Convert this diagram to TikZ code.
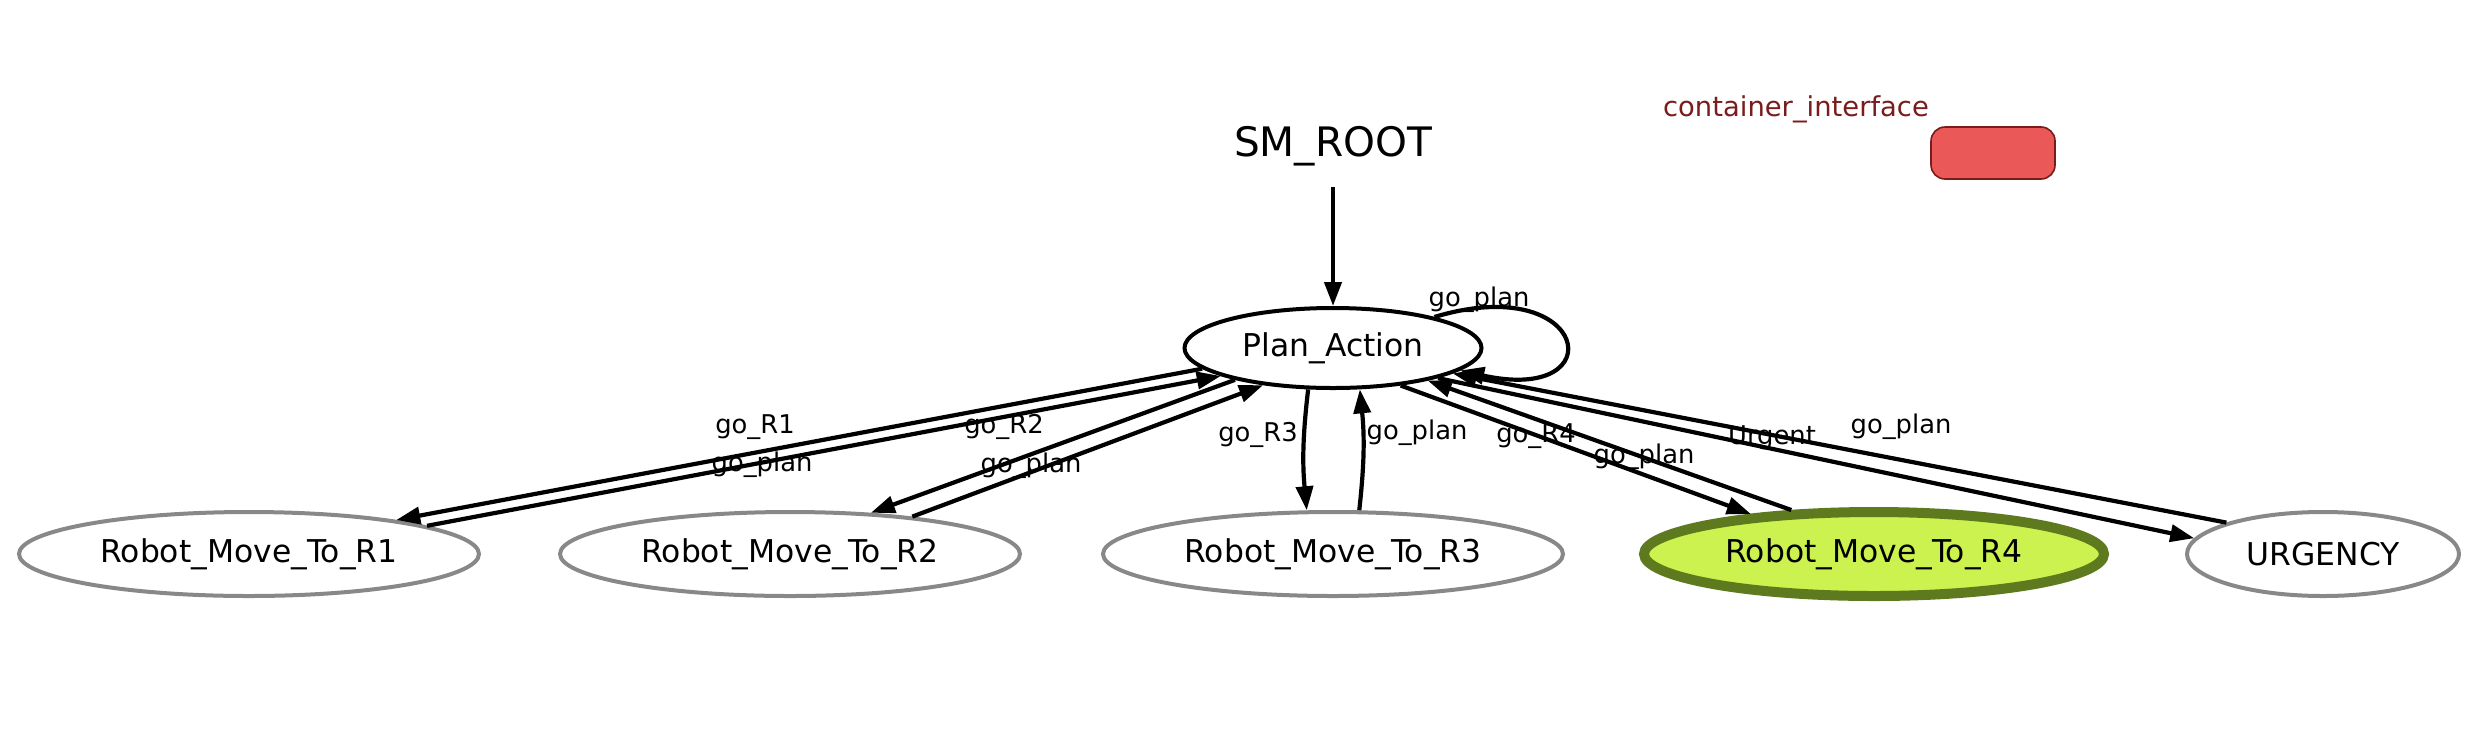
\documentclass[tikz,border=0pt]{standalone}
\usepackage{fontspec}
\setmainfont{DejaVu Sans}
\usetikzlibrary{arrows.meta,shapes.geometric}
\definecolor{ifred}{HTML}{EB5858}
\definecolor{ifdark}{HTML}{7A1C1C}
\definecolor{activefill}{HTML}{CBF24E}
\definecolor{activedraw}{HTML}{5E7A1E}
\definecolor{idle}{HTML}{888888}

\begin{document}
\begin{tikzpicture}
[x=0.5pt,y=-0.5pt,>={Triangle[length=12pt,width=8.5pt]},every node/.style={inner sep=0pt},
state node/.style={ellipse,draw=idle,line width=2pt,fill=white,minimum width=230pt,minimum height=42pt,font=\fontsize{15.7}{18}\selectfont},
active node/.style={state node,draw=activedraw,fill=activefill,line width=5pt},
plan node/.style={state node,draw=black,minimum width=148.5pt,minimum height=40pt},
trans/.style={->,line width=2.1pt},
lbl/.style={font=\fontsize{12.9}{15}\selectfont},]
\useasboundingbox (0,0) rectangle (2488,740);
% header
\node(SM_ROOT) at (1333,146) [minimum height=41pt,font=\fontsize{20.3}{24}\selectfont]{SM\_ROOT};
\node(ifc_label) at (1796,109) [text=ifdark,font=\fontsize{13.7}{16}\selectfont]{container\_interface};
\node(ifc_box) at (1993,153) [draw=ifdark,fill=ifred,rounded corners=7pt,line width=0.8pt,minimum width=62pt,minimum height=26pt]{};
% states
\node(Plan_Action) at (1333,348) [plan node]{Plan\_Action};
\node(R1) at (249,554) [state node]{Robot\_Move\_To\_R1};
\node(R2) at (790,554) [state node]{Robot\_Move\_To\_R2};
\node(R3) at (1333,554) [state node]{Robot\_Move\_To\_R3};
\node(R4) at (1874,554) [active node]{Robot\_Move\_To\_R4};
\node(URGENCY) at (2323,554) [state node,minimum width=136pt]{URGENCY};
% transitions
\draw[trans] (SM_ROOT.south) -- (Plan_Action.north);
\draw[trans] (Plan_Action.17) .. controls (1590,270) and (1615,405) .. (Plan_Action.350);
\draw[trans] (Plan_Action.189) -- (R1.13);
\draw[trans] (R1.9) -- (Plan_Action.194);
\draw[trans] (Plan_Action.198) -- (R2.27);
\draw[trans] (R2.17) -- (Plan_Action.208);
\draw[trans] (Plan_Action.239) to[bend right=6] (R3.121);
\draw[trans] (R3.59) to[bend right=6] (Plan_Action.303);
\draw[trans] (Plan_Action.331) -- (R4.162);
\draw[trans] (R4.152) -- (Plan_Action.341);
\draw[trans] (Plan_Action.344) -- (URGENCY.173);
\draw[trans] (URGENCY.162) -- (Plan_Action.348);
% transition labels
\node(l_loop) at (1479,300) [lbl]{go\_plan};
\node(l_go_R1) at (755,427) [lbl]{go\_R1};
\node(l_R1_plan) at (762,465) [lbl]{go\_plan};
\node(l_go_R2) at (1004,427) [lbl]{go\_R2};
\node(l_R2_plan) at (1031,466) [lbl]{go\_plan};
\node(l_go_R3) at (1258,435) [lbl]{go\_R3};
\node(l_R3_plan) at (1417,433) [lbl]{go\_plan};
\node(l_go_R4) at (1536,436) [lbl]{go\_R4};
\node(l_R4_plan) at (1644,457) [lbl]{go\_plan};
\node(l_urgent) at (1772,438) [lbl]{Urgent};
\node(l_urg_plan) at (1901,427) [lbl]{go\_plan};
\end{tikzpicture}
\end{document}
